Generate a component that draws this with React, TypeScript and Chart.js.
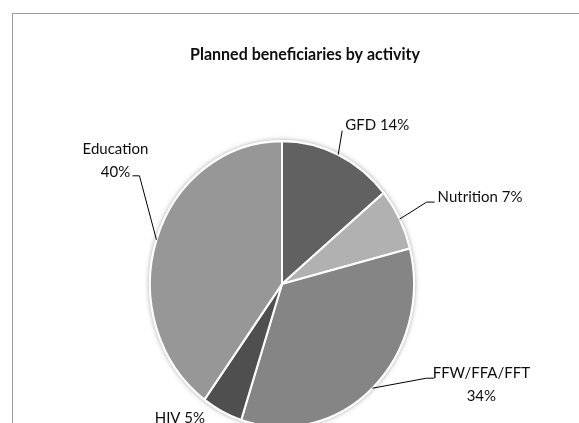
import React, { useEffect, useRef } from "react";
import { Chart, registerables } from "chart.js";

Chart.register(...registerables);

// ---- data ----
const TITLE = "Planned beneficiaries by activity";
const categories = ["GFD", "Nutrition", "FFW/FFA/FFT", "HIV", "Education"];
const shares = [14, 7, 34, 5, 40];
const sliceColors = ["#616161", "#b1b1b1", "#858585", "#4f4f4f", "#979797"];

// ---- layout / style ----
const W = 579;
const H = 423;
const STRETCH = 1.083; // reference pie is slightly taller than wide
const FONT = "Lato, 'DejaVu Sans', sans-serif";
const TEXT_COLOR = "#0d0d0d";

type LabelLayout = {
  leader: [number, number][]; // polyline offsets from the slice anchor
  dx: number;
  dy: number;
  align: "left" | "right" | "center";
  twoLines: boolean;
  pitch: number;
};

const labelLayouts: LabelLayout[] = [
  { leader: [[4, -24]], dx: 7, dy: -30, align: "left", twoLines: false, pitch: 0 },
  { leader: [[27, -17], [35, -17]], dx: 38, dy: -22, align: "left", twoLines: false, pitch: 0 },
  { leader: [[54, -10], [62, -10]], dx: 109, dy: -15, align: "center", twoLines: true, pitch: 23 },
  { leader: [], dx: -17, dy: 6, align: "right", twoLines: false, pitch: 0 },
  { leader: [[-17, -64], [-24, -64]], dx: -41, dy: -91, align: "center", twoLines: true, pitch: 23 },
];

function drawText(
  ctx: CanvasRenderingContext2D,
  str: string,
  x: number,
  y: number,
  align: CanvasTextAlign,
  font: string
) {
  ctx.save();
  ctx.translate(x, y);
  ctx.scale(1, STRETCH);
  ctx.font = font;
  ctx.fillStyle = TEXT_COLOR;
  ctx.textAlign = align;
  ctx.textBaseline = "middle";
  ctx.fillText(str, 0, 0);
  ctx.restore();
}

const stretchPlugin = {
  id: "stretchPie",
  beforeDatasetsDraw(chart: any) {
    const ctx: CanvasRenderingContext2D = chart.ctx;
    const arc = chart.getDatasetMeta(0).data[0];
    if (!arc) return;
    const { x, y, outerRadius } = arc.getProps(["x", "y", "outerRadius"], true);
    ctx.save();
    ctx.translate(x, y);
    ctx.scale(1, STRETCH);
    ctx.translate(-x, -y);
    // soft shadow behind the pie
    ctx.save();
    ctx.beginPath();
    ctx.arc(x, y, outerRadius + 1, 0, Math.PI * 2);
    ctx.fillStyle = "#ffffff";
    ctx.shadowColor = "rgba(0,0,0,0.35)";
    ctx.shadowBlur = 5;
    ctx.fill();
    ctx.restore();
  },
  afterDatasetsDraw(chart: any) {
    chart.ctx.restore();
  },
};

const labelPlugin = {
  id: "pieLabels",
  afterDraw(chart: any) {
    const ctx: CanvasRenderingContext2D = chart.ctx;
    const meta = chart.getDatasetMeta(0);
    // title
    drawText(ctx, TITLE, 305, 54, "center", `bold 16px ${FONT}`);

    const labelFont = `15px ${FONT}`;
    meta.data.forEach((arc: any, i: number) => {
      const { x, y, startAngle, endAngle, outerRadius } = arc.getProps(
        ["x", "y", "startAngle", "endAngle", "outerRadius"],
        true
      );
      const mid = (startAngle + endAngle) / 2;
      const ax = x + outerRadius * Math.cos(mid);
      const ay = y + outerRadius * STRETCH * Math.sin(mid);
      const lay = labelLayouts[i];
      if (lay.leader.length) {
        ctx.save();
        ctx.strokeStyle = "#000000";
        ctx.lineWidth = 1;
        ctx.beginPath();
        ctx.moveTo(ax, ay);
        lay.leader.forEach(([ox, oy]) => ctx.lineTo(ax + ox, ay + oy));
        ctx.stroke();
        ctx.restore();
      }
      const pct = `${shares[i]}%`;
      if (lay.twoLines) {
        drawText(ctx, categories[i], ax + lay.dx, ay + lay.dy, lay.align, labelFont);
        drawText(ctx, pct, ax + lay.dx, ay + lay.dy + lay.pitch, lay.align, labelFont);
      } else {
        drawText(ctx, `${categories[i]} ${pct}`, ax + lay.dx, ay + lay.dy, lay.align, labelFont);
      }
    });
  },
};

export default function App() {
  const canvasRef = useRef<HTMLCanvasElement | null>(null);

  useEffect(() => {
    const canvas = canvasRef.current;
    if (!canvas) return;
    const chart = new Chart(canvas, {
      type: "pie",
      data: {
        labels: categories,
        datasets: [
          {
            data: shares,
            backgroundColor: sliceColors,
            borderColor: "#ffffff",
            borderWidth: 2,
          },
        ],
      },
      options: {
        responsive: false,
        animation: false,
        devicePixelRatio: 1,
        layout: { padding: { left: 149, right: 164, top: 151, bottom: 6 } },
        plugins: {
          legend: { display: false },
          title: { display: false },
          tooltip: { enabled: false },
        },
      },
      plugins: [stretchPlugin, labelPlugin],
    });
    return () => chart.destroy();
  }, []);

  return (
    <div
      style={{
        position: "fixed",
        left: 0,
        top: 0,
        width: W,
        height: H,
        overflow: "hidden",
        background: "#ffffff",
      }}
    >
      <div
        style={{
          position: "absolute",
          left: 12,
          top: 13,
          width: 640,
          height: 520,
          border: "1px solid #9c9c9c",
          boxSizing: "border-box",
        }}
      />
      <canvas
        ref={canvasRef}
        width={W}
        height={H}
        style={{ position: "absolute", left: 0, top: 0, width: W, height: H }}
      />
    </div>
  );
}
